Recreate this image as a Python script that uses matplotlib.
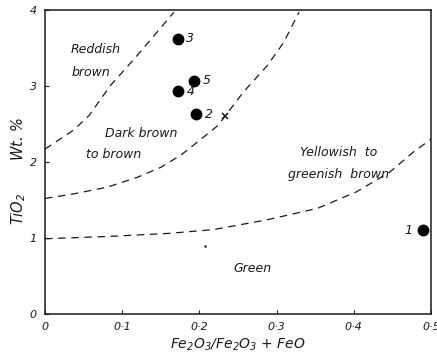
import matplotlib
matplotlib.use("Agg")
import matplotlib.pyplot as plt

# sample points (Fe2O3/(Fe2O3+FeO), TiO2 wt %)
pt_x = [0.490, 0.196, 0.172, 0.172, 0.193]
pt_y = [1.10, 2.63, 3.62, 2.93, 3.07]
pt_lab = ["1", "2", "3", "4", "5"]

# cross mark
cross_x = [0.233]
cross_y = [2.60]

# boundary curves
bA_x = [0.0, 0.037, 0.057, 0.085, 0.115, 0.141, 0.167]
bA_y = [2.17, 2.42, 2.61, 3.01, 3.35, 3.66, 3.97]

bB_x = [0.0, 0.037, 0.081, 0.120, 0.150, 0.176, 0.202, 0.224, 0.257, 0.288, 0.309, 0.329]
bB_y = [1.52, 1.58, 1.67, 1.80, 1.93, 2.09, 2.30, 2.48, 2.92, 3.27, 3.57, 3.97]

bC_x = [0.0, 0.081, 0.159, 0.218, 0.288, 0.353, 0.404, 0.447, 0.477, 0.500]
bC_y = [0.99, 1.02, 1.06, 1.11, 1.24, 1.39, 1.61, 1.87, 2.13, 2.30]

# region names
reg_txt = ["Reddish", "brown", "Dark brown", "to brown", "Yellowish  to",
           "greenish  brown", "Green"]
reg_x = [0.066, 0.059, 0.124, 0.089, 0.380, 0.380, 0.269]
reg_y = [3.48, 3.18, 2.38, 2.10, 2.13, 1.84, 0.60]

xticks = [0, 0.1, 0.2, 0.3, 0.4, 0.5]
xticklabels = ["0", "0·1", "0·2", "0·3", "0·4", "0·5"]
yticks = [0, 1, 2, 3, 4]
yticklabels = ["0", "1", "2", "3", "4"]

ink = "#1a1a1a"
plt.rcParams["font.family"] = "DejaVu Sans"
plt.rcParams["font.style"] = "italic"

fig = plt.figure(figsize=(4.37, 3.61), dpi=100)
ax = fig.add_axes([45 / 437, 1 - 314 / 361, 386 / 437, 304 / 361])

for bx, by in [(bA_x, bA_y), (bB_x, bB_y), (bC_x, bC_y)]:
    ax.plot(bx, by, color=ink, lw=0.9, dashes=(6, 4.5), clip_on=True)

ax.plot(pt_x, pt_y, "o", color="black", ms=7.5)
ax.plot(cross_x, cross_y, "x", color=ink, ms=4.5, mew=1.1)

for x, y, s in zip(pt_x, pt_y, pt_lab):
    if s == "1":
        ax.annotate(s, (x, y), xytext=(-11, 0), textcoords="offset points",
                    ha="center", va="center", fontsize=9, color=ink)
    else:
        ax.annotate(s, (x, y), xytext=(9, 0), textcoords="offset points",
                    ha="center", va="center", fontsize=9, color=ink)

for s, x, y in zip(reg_txt, reg_x, reg_y):
    ax.text(x, y, s, ha="center", va="center", fontsize=9, color=ink,
            fontweight="light")

ax.plot([0.207], [0.89], ".", color=ink, ms=1.5)

ax.set_xlim(0, 0.5)
ax.set_ylim(0, 4)
ax.set_xticks(xticks)
ax.set_xticklabels(xticklabels)
ax.set_yticks(yticks)
ax.set_yticklabels(yticklabels)
ax.tick_params(direction="in", length=3, width=0.8, labelsize=8, colors=ink,
               pad=6)
for sp in ax.spines.values():
    sp.set_linewidth(1.1)
    sp.set_color(ink)

ax.set_xlabel(r"Fe$_2$O$_3$/Fe$_2$O$_3$ + FeO", fontsize=10, color=ink,
              labelpad=3)
ax.set_ylabel(r"TiO$_2$       Wt. %", fontsize=10.5, color=ink)
ax.yaxis.set_label_coords(-0.045, 0.47)

fig.savefig("out.png", dpi=100)
